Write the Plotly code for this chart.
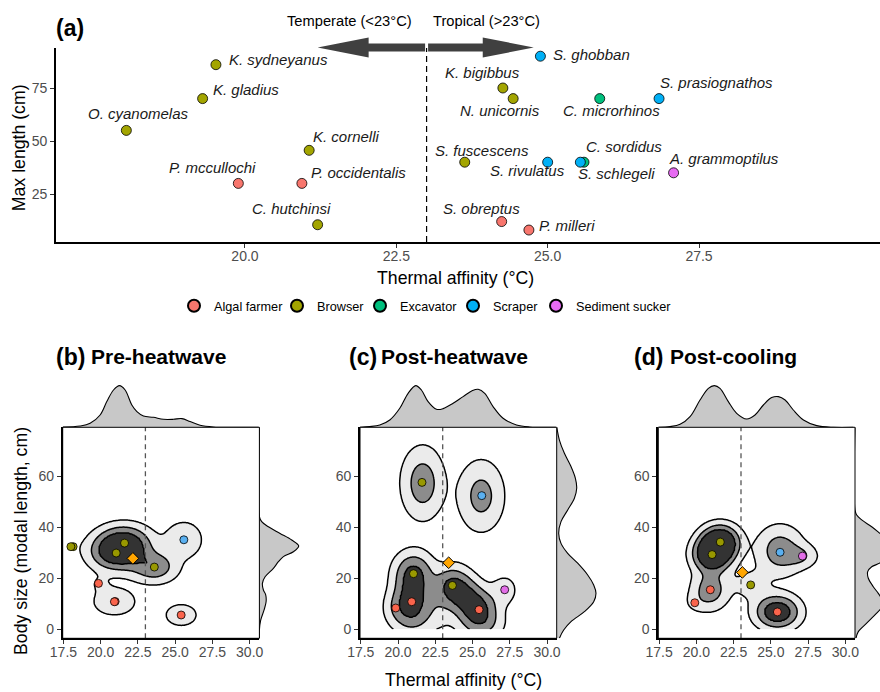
import numpy as np
import plotly.graph_objects as go

W, H = 880, 692
FONT = "Liberation Sans, Arial, sans-serif"
THRESHOLD = 23.0

# ---------------- Panel (a): species data ----------------
species = ["K. sydneyanus", "K. gladius", "O. cyanomelas", "K. cornelli", "P. mccullochi",
           "P. occidentalis", "C. hutchinsi", "S. ghobban", "K. bigibbus", "N. unicornis",
           "C. microrhinos", "S. prasiognathos", "S. fuscescens", "S. rivulatus", "C. sordidus",
           "S. schlegeli", "A. grammoptilus", "S. obreptus", "P. milleri"]
thermal_affinity = [19.52, 19.30, 18.04, 21.06, 19.89, 20.94, 21.20, 24.88, 24.26, 24.43,
                    25.86, 26.84, 23.63, 25.00, 25.60, 25.54, 27.08, 24.24, 24.69]
max_length = [86, 70, 55, 45.6, 30, 30, 10.5, 90, 75, 70, 70, 70, 40, 40, 40, 40, 35, 12, 8]
func_group = ["Browser", "Browser", "Browser", "Browser", "Algal farmer", "Algal farmer", "Browser",
              "Scraper", "Browser", "Browser", "Excavator", "Scraper", "Browser", "Scraper",
              "Excavator", "Scraper", "Sediment sucker", "Algal farmer", "Algal farmer"]
groups = ["Algal farmer", "Browser", "Excavator", "Scraper", "Sediment sucker"]
arrow_ends = [21.2, 24.77]

# ---------------- Lower panels: community points ----------------
b_x = [18.15, 18.00, 21.04, 21.60, 23.60, 25.58, 19.85, 20.97, 20.92, 25.40]
b_y = [32.4, 32.4, 29.9, 33.8, 24.4, 35.1, 18.0, 10.9, 10.8, 5.6]
b_g = ["Browser", "Browser", "Browser", "Browser", "Browser", "Scraper",
       "Algal farmer", "Algal farmer", "Algal farmer", "Algal farmer"]
b_mean = (22.16, 27.8)

c_x = [21.61, 25.62, 21.04, 23.65, 27.16, 20.92, 19.85, 25.44]
c_y = [57.6, 52.4, 21.8, 17.2, 15.5, 10.8, 8.35, 7.7]
c_g = ["Browser", "Scraper", "Browser", "Browser", "Sediment sucker",
       "Algal farmer", "Algal farmer", "Algal farmer"]
c_mean = (23.40, 26.1)

d_x = [21.61, 21.06, 25.62, 27.12, 23.65, 20.94, 19.90, 25.44]
d_y = [34.2, 29.3, 30.2, 28.7, 17.4, 15.5, 10.4, 6.8]
d_g = ["Browser", "Browser", "Scraper", "Sediment sucker", "Browser",
       "Algal farmer", "Algal farmer", "Algal farmer"]
d_mean = (23.09, 22.3)

# density components (centre x, centre y, weight, spread x, spread y)
b_kx = [21.04, 21.60, 23.60, 25.58, 19.85, 20.92, 25.40, 18.00]
b_ky = [29.9, 33.8, 24.4, 35.1, 18.0, 10.8, 5.6, 32.4]
b_kw = [0.95, 0.95, 0.70, 0.45, 0.12, 0.38, 0.35, 0.05]
b_ksx = [1.15, 1.15, 1.0, 0.8, 0.6, 1.0, 0.77, 0.6]
b_ksy = [4.6, 4.6, 4.0, 4.6, 2.5, 3.8, 3.15, 3.0]

c_kx = [21.65, 25.58, 21.04, 20.92, 20.95, 19.85, 23.65, 24.55, 25.44, 25.60, 27.16, 22.70]
c_ky = [57.3, 52.3, 21.8, 10.8, 3.0, 8.35, 17.2, 12.4, 7.7, 1.5, 15.5, 8.0]
c_kw = [0.65, 0.58, 0.90, 0.90, 0.30, 0.20, 0.80, 0.60, 0.80, 0.35, 0.28, 0.20]
c_ksx = [0.9, 0.97, 0.85, 0.85, 0.9, 0.6, 0.8, 0.8, 0.85, 1.0, 0.6, 0.7]
c_ksy = [8.8, 8.7, 5.5, 5.5, 4.0, 4.0, 5.0, 5.0, 5.0, 4.0, 4.0, 6.0]

d_kx = [21.61, 21.06, 20.94, 19.90, 25.62, 27.12, 23.65, 25.44]
d_ky = [34.2, 29.3, 15.5, 10.4, 30.8, 28.7, 17.4, 6.8]
d_kw = [1.50, 1.50, 0.65, 0.12, 0.65, 0.35, 0.25, 1.2]
d_ksx = [0.8, 0.8, 0.8, 0.6, 1.0, 0.7, 0.8, 0.95]
d_ksy = [4.2, 4.2, 5.0, 3.0, 6.2, 3.0, 4.0, 4.2]
levels = [0.15, 0.45, 0.8]

# marginal densities (relative heights)
b_top_x = [17.46, 18.62, 19.29, 19.96, 20.41, 20.86, 21.26, 21.64, 22.09, 22.43, 22.87, 23.54,
           24.21, 24.88, 25.45, 26.0, 26.67, 27.57, 28.9, 30.6]
b_top_h = [0.3, 1.3, 4, 12.3, 25.7, 37.3, 41.7, 37.3, 22.3, 15.7, 11.3, 10, 8, 8, 8.7, 5.7, 2,
           0.3, 0, 0]
c_top_x = [17.43, 18.1, 18.78, 19.45, 20.12, 20.68, 21.19, 21.57, 22.02, 22.58, 23.03, 23.7,
           24.37, 25.0, 25.38, 25.82, 26.38, 27.05, 27.95, 28.84, 30.6]
c_top_h = [0, 0.7, 2.3, 7.3, 19, 34, 41.7, 37.3, 25.7, 18, 18.7, 24, 30.7, 36.7, 38, 34, 20.7,
           9, 2.3, 0.3, 0]
d_top_x = [17.46, 18.24, 18.91, 19.58, 20.25, 20.81, 21.21, 21.59, 22.15, 22.71, 23.38, 23.94,
           24.5, 25.06, 25.51, 25.96, 26.51, 27.19, 28.08, 29.2, 30.54]
d_top_h = [0, 0.7, 3, 10.7, 27.3, 39, 41.7, 39, 25.7, 14, 8.3, 12.3, 22.3, 29.7, 30.7, 27.3,
           17.3, 7.3, 1.7, 0, 0]
b_right_y = [79.2, 44.2, 42.2, 40.2, 37.6, 35.0, 32.7, 30.4, 28.5, 26.5, 23.9, 20.6, 18.0, 15.4,
             13.5, 10.8, 7.6, 3.6, -0.3, -3.5]
b_right_w = [0, 0, 2.3, 9, 20.7, 32.3, 39.3, 34, 24, 19, 14, 5.7, 3, 4, 6.3, 6.7, 4.7, 1.3, 0, 0]
c_right_y = [79.5, 74.2, 69.0, 63.8, 59.2, 55.3, 51.4, 46.8, 42.2, 37.6, 33.7, 29.8, 25.9, 21.3,
             17.4, 14.1, 10.8, 6.9, 3.0, -0.3, -3.5]
c_right_w = [0, 2.7, 7.7, 14.3, 18.7, 20, 17.7, 11, 4.3, 2, 4.3, 11, 21, 31, 37, 39.3, 37, 27.7,
             14.3, 7, 2.7]
d_right_y = [79.2, 46.8, 44.8, 42.9, 40.2, 37.6, 35.0, 32.0, 29.0, 26.0, 24.5, 22.6, 20.0, 16.7,
             14.1, 12.0, 10.2, 8.0, 6.3, 2.4, -0.9, -3.5]
d_right_w = [0, 0, 1.7, 6.7, 16.7, 25, 33, 38, 34, 25, 16.7, 12.7, 13.3, 18.3, 23.3, 26.5, 27.5,
             25.5, 21.7, 11.7, 3.3, 1]

# ---------------- styles / layout ----------------
COL_A = {"Algal farmer": "#F8766D", "Browser": "#A3A500", "Excavator": "#00BF7D",
         "Scraper": "#00B0F6", "Sediment sucker": "#E76BF3"}
COL_L = {"Algal farmer": "#FA644C", "Browser": "#999900", "Excavator": "#00BF7D",
         "Scraper": "#5AB0F0", "Sediment sucker": "#E36EE8"}
LEGEND_W = {"Algal farmer": 58, "Browser": 38, "Excavator": 48, "Scraper": 38,
            "Sediment sucker": 94}
label_offsets = [(63, 4.7), (42.9, 9.4), (12, 17), (36.9, 14.3), (-25.8, 15.6), (56.8, 10.6),
                 (-26, 16.4), (50.6, 1.7), (-20.6, 15.3), (-13.5, -12.3), (12.2, -12.3),
                 (57.2, 15.7), (17, 12), (-20.3, -8.7), (40.5, 15.3), (36.2, -11.7),
                 (50.2, 14.7), (-20.4, 13.3), (38.2, 4.4)]


def fx(px):
    return px / W


def fy(py):
    return 1 - py / H


A_XD = [fx(56), 1.0]
A_YD = [fy(242), fy(48)]
A_XR = [16.878, 30.49]
A_YR = [2.36, 93.87]
L_XR = [17.45, 30.65]
L_YR = [-3.53, 79.2]
MAIN_YD = [fy(638.3), fy(427.3)]
TOP_YD = [fy(427.3), fy(382.3)]
PANEL_LEFT = [62.7, 360.0, 658.3]
PANEL_W = 196.7
RIGHT_W = [42, 42, 25]
TICK_FONT = dict(family=FONT, size=14, color="#4D4D4D")


def paper_text(px, py, text, size, angle=0, xanchor="center", xshift=0):
    return dict(x=fx(px), y=fy(py), xref="paper", yref="paper", text=text, showarrow=False,
                xanchor=xanchor, yanchor="middle", textangle=angle, xshift=xshift,
                font=dict(family=FONT, size=size, color="black"))


fig = go.Figure()
layout = dict(width=W, height=H, margin=dict(l=0, r=0, t=0, b=0, autoexpand=False),
              paper_bgcolor="white", plot_bgcolor="rgba(0,0,0,0)",
              font=dict(family=FONT, color="black"), showlegend=True)
annotations = []
shapes = []

# ---- panel (a)
layout["xaxis"] = dict(domain=A_XD, range=A_XR, anchor="y", tickvals=[20, 22.5, 25, 27.5],
                       ticktext=["20.0", "22.5", "25.0", "27.5"], showline=True, linecolor="black",
                       linewidth=1.6, ticks="outside", ticklen=4, tickcolor="#333333",
                       showgrid=False, zeroline=False, tickfont=TICK_FONT, automargin=False,
                       ticklabelstandoff=-4)
layout["yaxis"] = dict(domain=A_YD, range=A_YR, anchor="x", tickvals=[25, 50, 75],
                       showline=True, linecolor="black", linewidth=1.6, ticks="outside",
                       ticklen=4, tickcolor="#333333", showgrid=False, zeroline=False,
                       tickfont=TICK_FONT, automargin=False)
fig.add_trace(go.Scatter(x=[THRESHOLD, THRESHOLD], y=A_YR, mode="lines", xaxis="x", yaxis="y",
                         line=dict(color="black", width=1.2, dash="6px,4px"),
                         showlegend=False, hoverinfo="skip"))
for g in groups:
    idx = [i for i, gg in enumerate(func_group) if gg == g]
    fig.add_trace(go.Scatter(x=[thermal_affinity[i] for i in idx], y=[max_length[i] for i in idx],
                             mode="markers", name=g, xaxis="x", yaxis="y", hoverinfo="skip",
                             legendwidth=LEGEND_W[g],
                             marker=dict(size=10, color=COL_A[g], line=dict(color="black", width=0.8))))
for i, sp in enumerate(species):
    dx, dy = label_offsets[i]
    annotations.append(dict(x=thermal_affinity[i], y=max_length[i], xref="x", yref="y",
                            text="<i>%s</i>" % sp, showarrow=False, xshift=dx, yshift=dy,
                            xanchor="center", yanchor="middle",
                            font=dict(family=FONT, size=15, color="#1A1A1A")))


def a2p(x):
    return A_XD[0] + (x - A_XR[0]) / (A_XR[1] - A_XR[0]) * (A_XD[1] - A_XD[0])


yc = fy(47.5)
bh, hh = 4 / H, 10 / H
hl = 51 / W
gap = 1.5 / W
for end in arrow_ends:
    s = -1 if end < THRESHOLD else 1
    xt = a2p(end)
    xb = xt - s * hl
    xs = a2p(THRESHOLD) + s * gap
    path = ("M %f,%f L %f,%f L %f,%f L %f,%f L %f,%f L %f,%f L %f,%f Z" %
            (xt, yc, xb, yc + hh, xb, yc + bh, xs, yc + bh, xs, yc - bh, xb, yc - bh, xb, yc - hh))
    shapes.append(dict(type="path", path=path, xref="paper", yref="paper",
                       fillcolor="#404040", line=dict(width=0), layer="above"))
annotations.append(paper_text(349, 21, "Temperate (<23°C)", 14.7))
annotations.append(paper_text(486.5, 21, "Tropical (>23°C)", 14.7))
annotations.append(paper_text(56, 28, "<b>(a)</b>", 23, xanchor="left", xshift=-2))
annotations.append(paper_text(455, 278, "Thermal affinity (°C)", 17.7))
annotations.append(paper_text(19.7, 147.5, "Max length (cm)", 17.7, angle=-90))

# ---- lower panels
panels = [
    dict(tag="(b)", title="Pre-heatwave", x=b_x, y=b_y, g=b_g, mean=b_mean,
         k=(b_kx, b_ky, b_kw, b_ksx, b_ksy), top=(b_top_x, b_top_h), right=(b_right_y, b_right_w),
         tagx=56, titlex=91),
    dict(tag="(c)", title="Post-heatwave", x=c_x, y=c_y, g=c_g, mean=c_mean,
         k=(c_kx, c_ky, c_kw, c_ksx, c_ksy), top=(c_top_x, c_top_h), right=(c_right_y, c_right_w),
         tagx=349.3, titlex=381),
    dict(tag="(d)", title="Post-cooling", x=d_x, y=d_y, g=d_g, mean=d_mean,
         k=(d_kx, d_ky, d_kw, d_ksx, d_ksy), top=(d_top_x, d_top_h), right=(d_right_y, d_right_w),
         tagx=634, titlex=670),
]

gx = np.linspace(L_XR[0], L_XR[1], 200)
gy = np.linspace(0, 79, 200)
GX, GY = np.meshgrid(gx, gy)
cscale = [[0, "rgba(255,255,255,0)"], [0.1875, "rgba(255,255,255,0)"],
          [0.1875, "#EBEBEB"], [0.4375, "#EBEBEB"],
          [0.4375, "#8C8C8C"], [0.6875, "#8C8C8C"],
          [0.6875, "#333333"], [1, "#333333"]]

for p_i, P in enumerate(panels):
    n = 2 + 3 * p_i
    left = PANEL_LEFT[p_i]
    xd = [fx(left), fx(left + PANEL_W)]
    rd = [fx(left + PANEL_W), min(1.0, fx(left + PANEL_W + RIGHT_W[p_i]))]
    xa, ya = "x%d" % n, "y%d" % n
    xt_, yt_ = "x%d" % (n + 1), "y%d" % (n + 1)
    xr_, yr_ = "x%d" % (n + 2), "y%d" % (n + 2)
    layout["xaxis%d" % n] = dict(domain=xd, range=L_XR, anchor=ya,
                                 tickvals=[17.5, 20, 22.5, 25, 27.5, 30],
                                 ticktext=["17.5", "20.0", "22.5", "25.0", "27.5", "30.0"],
                                 showline=True, linecolor="black", linewidth=1.8, ticks="outside",
                                 ticklen=4, tickcolor="#333333", showgrid=False, zeroline=False,
                                 tickfont=TICK_FONT, automargin=False, ticklabelstandoff=-4)
    layout["yaxis%d" % n] = dict(domain=MAIN_YD, range=L_YR, anchor=xa, tickvals=[0, 20, 40, 60],
                                 showline=True, linecolor="black", linewidth=1.8, ticks="outside",
                                 ticklen=4, tickcolor="#333333", showgrid=False, zeroline=False,
                                 tickfont=TICK_FONT, automargin=False)
    layout["xaxis%d" % (n + 1)] = dict(domain=xd, range=L_XR, anchor=yt_, visible=False,
                                       automargin=False)
    layout["yaxis%d" % (n + 1)] = dict(domain=TOP_YD, range=[0, 45], anchor=xt_, visible=False,
                                       automargin=False)
    layout["xaxis%d" % (n + 2)] = dict(domain=rd, range=[0, RIGHT_W[p_i]], anchor=yr_,
                                       visible=False, automargin=False)
    layout["yaxis%d" % (n + 2)] = dict(domain=MAIN_YD, range=L_YR, anchor=xr_, visible=False,
                                       automargin=False)

    kx, ky, kw, ksx, ksy = P["k"]
    D = np.zeros_like(GX)
    for cx, cy, w, sx, sy in zip(kx, ky, kw, ksx, ksy):
        D += w * np.exp(-0.5 * (((GX - cx) / sx) ** 2 + ((GY - cy) / sy) ** 2))
    Z = np.interp(D, [0] + levels + [levels[-1] * 10], [0, 1, 2, 3, 4])
    fig.add_trace(go.Contour(x=gx, y=gy, z=Z, xaxis=xa, yaxis=ya, showscale=False,
                             zauto=False, zmin=0, zmax=4, colorscale=cscale,
                             contours=dict(start=1, end=3, size=1, coloring="fill", showlines=True),
                             line=dict(color="black", width=1.5, smoothing=1.0),
                             hoverinfo="skip", showlegend=False))
    fig.add_trace(go.Scatter(x=[THRESHOLD, THRESHOLD], y=L_YR, mode="lines", xaxis=xa, yaxis=ya,
                             line=dict(color="#555555", width=1.3, dash="5px,4px"),
                             showlegend=False, hoverinfo="skip"))
    fig.add_trace(go.Scatter(x=P["x"], y=P["y"], mode="markers", xaxis=xa, yaxis=ya,
                             marker=dict(size=8, color=[COL_L[g] for g in P["g"]],
                                         line=dict(color="black", width=0.8)),
                             showlegend=False, hoverinfo="skip"))
    fig.add_trace(go.Scatter(x=[P["mean"][0]], y=[P["mean"][1]], mode="markers", xaxis=xa, yaxis=ya,
                             marker=dict(size=9, symbol="diamond", color="#FFA500",
                                         line=dict(color="black", width=1)),
                             showlegend=False, hoverinfo="skip"))
    tx, th = P["top"]
    fig.add_trace(go.Scatter(x=tx, y=th, mode="lines", xaxis=xt_, yaxis=yt_, fill="tozeroy",
                             fillcolor="#C8C8C8", line=dict(color="black", width=1.1, shape="spline"),
                             showlegend=False, hoverinfo="skip"))
    ry, rw = P["right"]
    fig.add_trace(go.Scatter(x=rw, y=ry, mode="lines", xaxis=xr_, yaxis=yr_, fill="tozerox",
                             fillcolor="#C8C8C8", line=dict(color="black", width=1.1, shape="spline"),
                             showlegend=False, hoverinfo="skip"))
    shapes.append(dict(type="rect", xref="%s domain" % xa, yref="%s domain" % ya,
                       x0=0, x1=1, y0=0, y1=1, line=dict(color="black", width=1), layer="above"))
    annotations.append(paper_text(P["tagx"], 356.5, "<b>%s</b>" % P["tag"], 23,
                                  xanchor="left", xshift=-2))
    annotations.append(paper_text(P["titlex"], 356.5, "<b>%s</b>" % P["title"], 21,
                                  xanchor="left", xshift=-2))

annotations.append(paper_text(464, 680, "Thermal affinity (°C)", 17.7))
annotations.append(paper_text(21, 541, "Body size (modal length, cm)", 17.7, angle=-90))

layout["legend"] = dict(orientation="h", x=fx(174), xanchor="left", y=fy(306),
                        yanchor="middle", font=dict(family=FONT, size=12.7, color="black"),
                        bgcolor="rgba(0,0,0,0)", itemsizing="constant")
layout["annotations"] = annotations
layout["shapes"] = shapes
fig.update_layout(**layout)
fig.write_html("out.html")
